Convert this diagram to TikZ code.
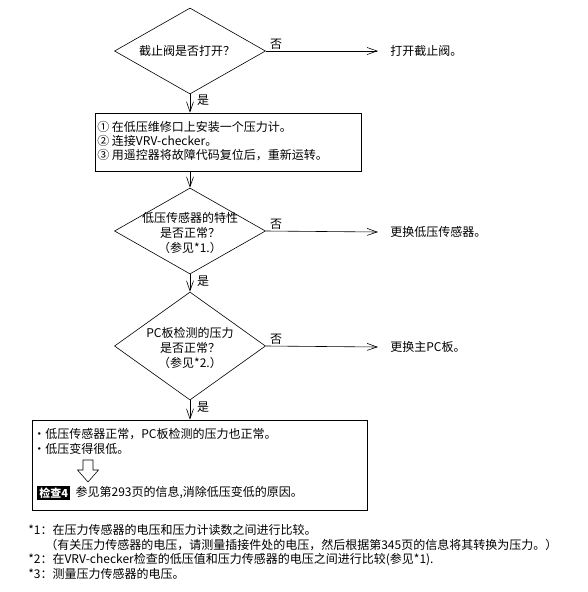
\documentclass[tikz,border=0pt]{standalone}
\usepackage{fontspec}
\setmainfont{Noto Sans CJK SC}
\usetikzlibrary{positioning, arrows.meta, shapes.geometric}

\begin{document}
\begin{tikzpicture}[
    x=1pt, y=-1pt,
    line width=0.6pt,
    font=\fontsize{12}{15}\selectfont,
    check/.style={draw, diamond, minimum width=151pt, minimum height=86pt, inner sep=0pt},
    tallcheck/.style={check, minimum height=108pt},
    qtext/.style={align=center, inner sep=0pt},
    stepbox/.style={draw, rectangle, inner sep=0pt},
    fix/.style={anchor=west, inner xsep=12pt, inner ysep=0pt},
    txt/.style={anchor=west, inner sep=0pt},
    ans/.style={inner sep=0pt},
    flow/.style={-{Straight Barb[length=10pt, width=7pt]}}
]
\useasboundingbox (0,0) rectangle (587,592);

% Questions
\node[check] (q1) at (190,51) {};
\node[qtext] (q1t) at (187,51) {截止阀是否打开？};
\node[check] (q2) at (190,231) {};
\node[qtext] (q2t) at (190,233) {低压传感器的特性\\是否正常？\\（参见*1.）};
\node[tallcheck] (q3) at (190,346) {};
\node[qtext] (q3t) at (190,348) {PC板检测的压力\\是否正常？\\（参见*2.）};

% Work box
\node[stepbox, minimum width=266pt, minimum height=58pt] (prep) at (228,142) {};
\node[txt] (prep1) at (97,127) {① 在低压维修口上安装一个压力计。};
\node[txt] (prep2) at (97,141) {② 连接VRV-checker。};
\node[txt] (prep3) at (97,155) {③ 用遥控器将故障代码复位后，重新运转。};

% Results
\node[fix] (fix1) at (378,51) {打开截止阀。};
\node[fix] (fix2) at (378,232) {更换低压传感器。};
\node[fix] (fix3) at (378,347) {更换主PC板。};

% Yes / no marks
\node[ans] (no1) at (276,44) {否};
\node[ans] (no2) at (276,224) {否};
\node[ans] (no3) at (276,339) {否};
\node[ans] (yes1) at (203,100) {是};
\node[ans] (yes2) at (203,281) {是};
\node[ans] (yes3) at (203,407) {是};

% Summary box
\node[stepbox, minimum width=335pt, minimum height=90pt] (sum) at (199.5,465) {};
\node[txt] (sum1) at (33,434) {・低压传感器正常，PC板检测的压力也正常。};
\node[txt] (sum2) at (33,449) {・低压变得很低。};
\draw (83,460) -- (93,460) -- (93,470) -- (98.5,470) -- (88,482)
      -- (77.5,470) -- (83,470) -- cycle;
\node[anchor=west, fill=black, text=white, inner xsep=2pt, inner ysep=2pt,
      font=\fontsize{11}{13}\selectfont\bfseries] (chk) at (37,493) {检查4};
\node[txt, right=5pt of chk] (chkt) {参见第293页的信息,消除低压变低的原因。};

% Footnotes
\node[txt] (note1) at (28,530) {*1：在压力传感器的电压和压力计读数之间进行比较。};
\node[txt] (note1b) at (45,545) {（有关压力传感器的电压，请测量插接件处的电压，然后根据第345页的信息将其转换为压力。）};
\node[txt] (note2) at (28,560) {*2：在VRV-checker检查的低压值和压力传感器的电压之间进行比较(参见*1).};
\node[txt] (note3) at (28,574) {*3：测量压力传感器的电压。};

% Flow
\draw[flow] (q1.south) -- (q1.south |- prep.north);
\draw[flow] (q2.north |- prep.south) -- (q2.north);
\draw[flow] (q2.south) -- (q3.north);
\draw[flow] (q3.south) -- (q3.south |- sum.north);
\draw[flow] (q1.east) -- (fix1.west);
\draw[flow] (q2.east) -- (fix2.west);
\draw[flow] (q3.east) -- (fix3.west);
\end{tikzpicture}
\end{document}
